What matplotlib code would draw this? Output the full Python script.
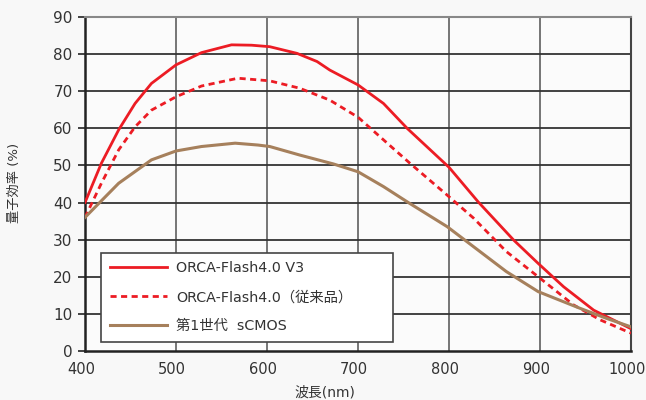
import matplotlib
matplotlib.use("Agg")
import matplotlib.pyplot as plt
from matplotlib.transforms import ScaledTranslation

plt.rcParams['font.family'] = ['DejaVu Sans', 'Noto Sans CJK JP']

wl_v3 = [400, 418, 437, 455, 473, 500, 528, 561, 583, 603, 633, 655, 669, 700, 728, 754, 800, 832, 871, 898, 926, 959, 1000]
qe_v3 = [40, 50.6, 59.6, 66.7, 72.1, 77.1, 80.4, 82.5, 82.4, 82, 80.2, 78, 75.7, 71.7, 66.7, 60, 49.5, 40.2, 29.9, 23.6, 17.3, 11, 6]

wl_old = [400, 418, 437, 455, 473, 500, 528, 568, 603, 636, 669, 700, 728, 757, 798, 827, 863, 898, 937, 966, 1000]
qe_old = [36, 45.2, 54.2, 60.4, 64.9, 68.5, 71.4, 73.5, 72.8, 70.8, 67.6, 63, 56.9, 50.6, 42, 35.8, 26.8, 20, 12.4, 8.4, 4.8]

wl_gen1 = [400, 437, 473, 500, 528, 565, 590, 603, 636, 673, 700, 728, 754, 798, 827, 863, 898, 944, 973, 1000]
qe_gen1 = [36, 45.2, 51.5, 53.9, 55.1, 56, 55.5, 55.1, 52.8, 50.4, 48.3, 44.3, 40.2, 33.5, 28.1, 21.4, 16, 11.5, 8.8, 6.5]

labels = ['ORCA-Flash4.0 V3', 'ORCA-Flash4.0（従来品）', '第1世代  sCMOS']
xticks = [400, 500, 600, 700, 800, 900, 1000]
yticks = [0, 10, 20, 30, 40, 50, 60, 70, 80, 90]

red = '#ec1c24'
brown = '#a6805c'

fig = plt.figure(figsize=(6.46, 4.0), dpi=100)
fig.patch.set_facecolor('#f8f8f8')
ax = fig.add_axes([0.1316, 0.1225, 0.8452, 0.835])
ax.set_facecolor('#fbfbfb')

for x in xticks[1:-1]:
    ax.axvline(x, color='#6a6a6a', lw=1.3, zorder=1)
for y in yticks[1:-1]:
    ax.axhline(y, color='#333333', lw=1.3, zorder=1)

l1, = ax.plot(wl_v3, qe_v3, color=red, lw=2.0, zorder=3)
l2, = ax.plot(wl_old, qe_old, color=red, lw=2.0, ls=(0, (2.2, 1.6)), zorder=3)
l3, = ax.plot(wl_gen1, qe_gen1, color=brown, lw=2.2, zorder=3)

ax.set_xlim(400, 1000)
ax.set_ylim(0, 90)
ax.set_xticks(xticks)
ax.set_yticks(yticks)
ax.tick_params(axis='y', length=5, width=1.3, color='#333333', labelsize=11, labelcolor='#333333', pad=4)
ax.tick_params(axis='x', length=0, labelsize=10.5, labelcolor='#333333', pad=8)
for lab in ax.get_xticklabels():
    lab.set_transform(lab.get_transform() + ScaledTranslation(-4/100, 0, fig.dpi_scale_trans))

for s in ['left', 'bottom']:
    ax.spines[s].set_color('#222222')
    ax.spines[s].set_linewidth(1.8)
ax.spines['top'].set_color('#888888')
ax.spines['top'].set_linewidth(1.5)
ax.spines['right'].set_color('#444444')
ax.spines['right'].set_linewidth(1.5)

leg = ax.legend([l1, l2, l3], labels, loc='lower left',
                bbox_to_anchor=(0.0293, 0.027, 0.535, 0.266), mode='expand',
                borderaxespad=0, fontsize=10.3, frameon=True, fancybox=False,
                handlelength=4.0, labelspacing=1.05, borderpad=0.6, handletextpad=0.65)
leg.get_frame().set_edgecolor('#444444')
leg.get_frame().set_linewidth(1.2)
leg.get_frame().set_facecolor('white')
leg.get_frame().set_alpha(1)
for t in leg.get_texts():
    t.set_color('#333333')

fig.text(0.023, 0.5425, '量子効率 (%)', rotation=90, ha='center', va='center', fontsize=9.5, color='#333333')
fig.text(0.503, 0.018, '波長(nm)', ha='center', va='center', fontsize=10, color='#333333')

fig.savefig('out.png', dpi=100, facecolor=fig.get_facecolor())
